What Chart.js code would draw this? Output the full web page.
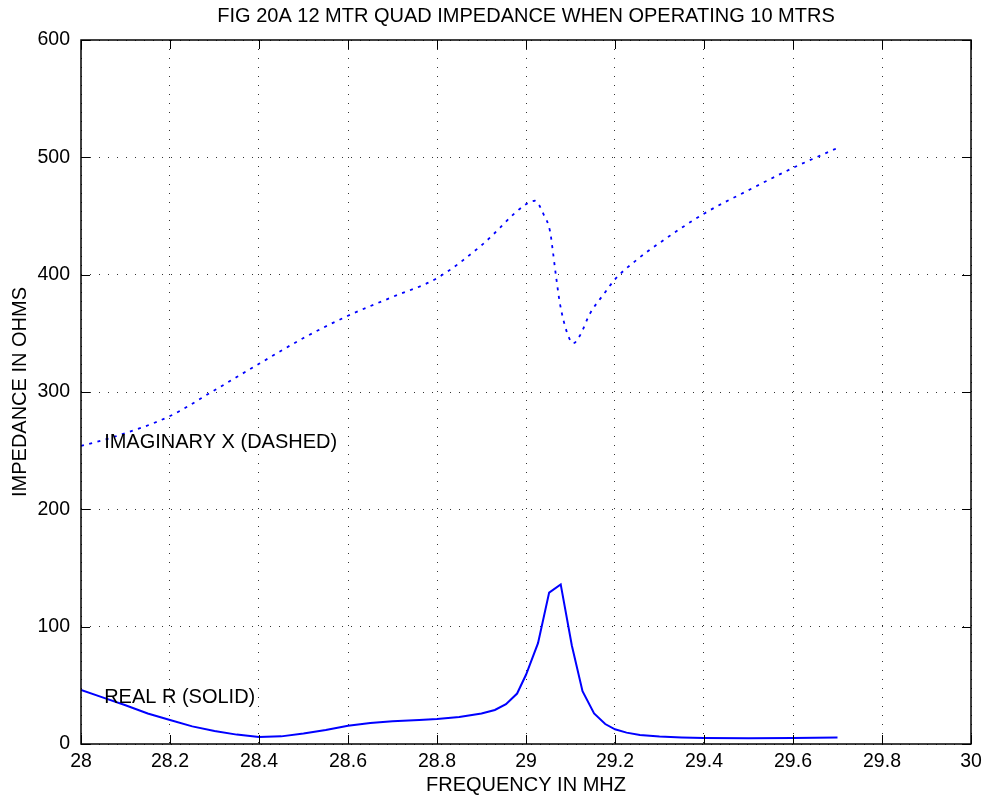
<!DOCTYPE html>
<html>
<head>
<meta charset="utf-8">
<script src="https://cdn.jsdelivr.net/npm/chart.js"></script>
<style>
  html, body { margin: 0; padding: 0; background: #fff; }
  canvas { display: block; }
</style>
</head>
<body>
<canvas id="myChart" width="989" height="799"></canvas>
<script>
// Real part of the impedance (solid)
const freqR = [28.0, 28.05, 28.1, 28.15, 28.2, 28.25, 28.3, 28.35, 28.4, 28.45, 28.5, 28.55, 28.6, 28.65, 28.7,
  28.76, 28.8, 28.85, 28.9, 28.93, 28.955, 28.98, 29.0, 29.027, 29.052, 29.078, 29.103, 29.127, 29.153, 29.178,
  29.2, 29.226, 29.256, 29.3, 29.35, 29.4, 29.5, 29.6, 29.7];
const realR = [46, 39.5, 33, 26, 20.5, 15, 11, 8, 6, 6.5, 9, 12, 15.5, 17.8, 19.3,
  20.5, 21.3, 23, 26, 29, 34, 43, 59, 86, 129, 136, 84, 45, 26, 17,
  12.5, 9.7, 7.7, 6.3, 5.6, 5.2, 5, 5.2, 5.5];

// Imaginary part of the impedance (dashed)
const freqX = [28.0, 28.076, 28.2, 28.3, 28.4, 28.5, 28.6, 28.7, 28.8, 28.9, 29.0, 29.02, 29.04, 29.054, 29.06,
  29.067, 29.076, 29.085, 29.097, 29.106, 29.121, 29.144, 29.174, 29.2, 29.25, 29.3, 29.4, 29.5, 29.6, 29.7];
const imagX = [254, 262, 279.5, 301.5, 324, 346, 365, 381, 397, 425, 460, 463, 451, 437, 421,
  400, 376, 360, 346, 341.5, 348, 367, 383, 396, 413, 427, 452, 472, 491, 508];

const xTicks = [28, 28.2, 28.4, 28.6, 28.8, 29, 29.2, 29.4, 29.6, 29.8, 30];
const yTicks = [0, 100, 200, 300, 400, 500, 600];

// text placed inside the plot
const noteText = ['IMAGINARY X (DASHED)', 'REAL R (SOLID)'];
const noteX = [28.052, 28.052];
const noteY = [257, 40];

const FONT = 'Liberation Sans, Arial, Helvetica, sans-serif';

const toPoints = (xs, ys) => xs.map((x, i) => ({ x: x, y: ys[i] }));

// box around the plot, inward ticks on all sides, and the curve notes
const framePlugin = {
  id: 'frame',
  afterDatasetsDraw(chart) {
    const { ctx, chartArea: a, scales } = chart;
    const tick = 9;
    ctx.save();
    ctx.strokeStyle = '#000';
    ctx.lineWidth = 1;
    ctx.beginPath();
    xTicks.forEach(v => {
      const px = Math.round(scales.x.getPixelForValue(v)) + 0.5;
      ctx.moveTo(px, a.bottom); ctx.lineTo(px, a.bottom - tick);
      ctx.moveTo(px, a.top); ctx.lineTo(px, a.top + tick);
    });
    yTicks.forEach(v => {
      const py = Math.round(scales.y.getPixelForValue(v)) + 0.5;
      ctx.moveTo(a.left, py); ctx.lineTo(a.left + tick, py);
      ctx.moveTo(a.right, py); ctx.lineTo(a.right - tick, py);
    });
    ctx.stroke();
    ctx.lineWidth = 1.5;
    ctx.strokeRect(a.left, a.top, a.right - a.left, a.bottom - a.top);

    ctx.fillStyle = '#000';
    ctx.font = '20px ' + FONT;
    ctx.textAlign = 'left';
    ctx.textBaseline = 'middle';
    noteText.forEach((t, i) => {
      ctx.fillText(t, scales.x.getPixelForValue(noteX[i]), scales.y.getPixelForValue(noteY[i]));
    });
    ctx.restore();
  }
};

const gridStyle = {
  color: '#333',
  lineWidth: 1,
  drawTicks: false
};

new Chart(document.getElementById('myChart').getContext('2d'), {
  type: 'line',
  data: {
    datasets: [{
      label: 'REAL R',
      data: toPoints(freqR, realR),
      borderColor: '#0000ff',
      borderWidth: 2,
      pointRadius: 0,
      tension: 0,
      fill: false
    }, {
      label: 'IMAGINARY X',
      data: toPoints(freqX, imagX),
      borderColor: '#0000ff',
      borderWidth: 1.8,
      borderDash: [3, 5.5],
      pointRadius: 0,
      cubicInterpolationMode: 'monotone',
      fill: false
    }]
  },
  options: {
    responsive: false,
    devicePixelRatio: 1,
    animation: false,
    layout: { padding: { left: 0, right: 18, top: 0, bottom: 0 } },
    plugins: {
      legend: { display: false },
      tooltip: { enabled: false },
      title: {
        display: true,
        fullSize: false,
        text: 'FIG 20A 12 MTR QUAD IMPEDANCE WHEN OPERATING 10 MTRS',
        color: '#000',
        font: { family: FONT, size: 20, weight: 'normal' },
        padding: { top: 4.5, bottom: 11.5 }
      }
    },
    scales: {
      x: {
        type: 'linear',
        min: 28,
        max: 30,
        afterBuildTicks: s => { s.ticks = xTicks.map(v => ({ value: v })); },
        afterFit: s => { s.height = 55; },
        ticks: {
          color: '#000',
          padding: 6,
          maxRotation: 0,
          font: { family: FONT, size: 19.5 },
          callback: v => String(v)
        },
        grid: Object.assign({ borderDash: [1, 8] }, gridStyle),
        border: { display: false, dash: [1, 8] },
        title: {
          display: true,
          text: 'FREQUENCY IN MHZ',
          color: '#000',
          font: { family: FONT, size: 20 },
          padding: { top: 0, bottom: 2 }
        }
      },
      y: {
        type: 'linear',
        min: 0,
        max: 600,
        afterBuildTicks: s => { s.ticks = yTicks.map(v => ({ value: v })); },
        afterFit: s => { s.width = 81; },
        ticks: {
          color: '#000',
          padding: 11,
          font: { family: FONT, size: 19.5 },
          callback: v => String(v)
        },
        grid: gridStyle,
        border: { display: false, dash: [1, 8] },
        title: {
          display: true,
          text: 'IMPEDANCE IN OHMS',
          color: '#000',
          font: { family: FONT, size: 20 },
          padding: { top: 8, bottom: 0 }
        }
      }
    }
  },
  plugins: [framePlugin]
});
</script>
</body>
</html>
